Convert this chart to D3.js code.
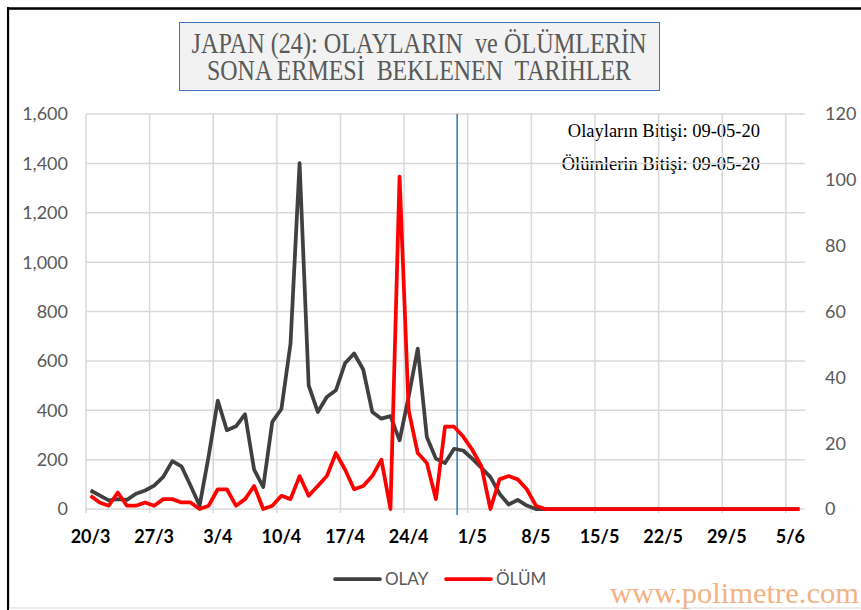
<!DOCTYPE html>
<html>
<head>
<meta charset="utf-8">
<script src="https://cdn.jsdelivr.net/npm/d3@7"></script>
<style>
  body { margin: 0; background: #fff; }
  svg { display: block; }
</style>
</head>
<body>
<div id="chart"></div>
<script>
// categories: one per day, 20/3 .. 6/6
const dates = [
  "20/3","21/3","22/3","23/3","24/3","25/3","26/3","27/3","28/3","29/3","30/3","31/3",
  "1/4","2/4","3/4","4/4","5/4","6/4","7/4","8/4","9/4","10/4","11/4","12/4","13/4","14/4","15/4",
  "16/4","17/4","18/4","19/4","20/4","21/4","22/4","23/4","24/4","25/4","26/4","27/4","28/4","29/4","30/4",
  "1/5","2/5","3/5","4/5","5/5","6/5","7/5","8/5","9/5","10/5","11/5","12/5","13/5","14/5","15/5",
  "16/5","17/5","18/5","19/5","20/5","21/5","22/5","23/5","24/5","25/5","26/5","27/5","28/5","29/5","30/5","31/5",
  "1/6","2/6","3/6","4/6","5/6","6/6"
];

// daily cases (left axis)
const olay = [
  75,55,35,40,37,62,75,95,130,194,
  173,95,14,215,439,319,335,384,159,89,
  353,405,669,1401,501,393,454,481,590,630,
  565,393,366,376,278,455,650,292,204,186,
  244,237,204,167,129,62,18,37,14,
  0,0,0,0,0,0,0,0,0,0,0,0,0,0,0,0,0,0,0,0,0,0,0,0,0,0,0,0,0,0
];

// daily deaths (right axis)
const olum = [
  4,2,1,5,1,1,2,1,3,3,
  2,2,0,1,6,6,1,3,7,0,
  1,4,3,10,4,7,10,17,12,6,
  7,10,15,0,101,30,17,14,3,25,
  25,22,18,13,0,9,10,9,6,1,
  0,0,0,0,0,0,0,0,0,0,0,0,0,0,0,0,0,0,0,0,0,0,0,0,0,0,0,0,0
];

const xTickLabels = ["20/3","27/3","3/4","10/4","17/4","24/4","1/5","8/5","15/5","22/5","29/5","5/6"];
const leftTicks = [0,200,400,600,800,1000,1200,1400,1600];
const rightTicks = [0,20,40,60,80,100,120];
const markerDate = "30/4";

const titleLines = ["JAPAN (24): OLAYLARIN  ve ÖLÜMLERİN", "SONA ERMESİ  BEKLENEN  TARİHLER"];
const notes = ["Olayların Bitişi: 09-05-20", "Ölümlerin Bitişi: 09-05-20"];

const W = 861, H = 610;
const plot = {left: 86, right: 804, top: 114, bottom: 509};

const svg = d3.select("#chart").append("svg")
  .attr("width", W).attr("height", H);

// chart area frame
svg.append("rect")
  .attr("x", 9.5).attr("y", 9.5).attr("width", W).attr("height", 598.5)
  .attr("fill", "#fff").attr("stroke", "#d9d9d9").attr("stroke-width", 1);
svg.append("line").attr("x1", 8).attr("x2", W).attr("y1", 8.5).attr("y2", 8.5)
  .attr("stroke", "#000").attr("stroke-width", 2.5);
svg.append("line").attr("x1", 8).attr("x2", 8).attr("y1", 7).attr("y2", H)
  .attr("stroke", "#000").attr("stroke-width", 2);

const x = d3.scaleBand().domain(dates).range([plot.left, plot.right]).padding(0);
const cx = d => x(d) + x.bandwidth() / 2;
const yL = d3.scaleLinear().domain([0, 1600]).range([plot.bottom, plot.top]);
const yR = d3.scaleLinear().domain([0, 120]).range([plot.bottom, plot.top]);

// end-date notes (sit under the gridlines, as in the original)
svg.append("g").selectAll("text").data(notes).join("text")
  .attr("x", 760).attr("y", (d, i) => 137 + i * 33)
  .attr("text-anchor", "end")
  .style("font-family", "'Liberation Serif', 'Times New Roman', serif").style("font-size", "18.5px")
  .attr("fill", "#000")
  .text(d => d);

// horizontal gridlines
svg.append("g").selectAll("line").data(leftTicks).join("line")
  .attr("x1", plot.left).attr("x2", plot.right + 1)
  .attr("y1", d => yL(d)).attr("y2", d => yL(d))
  .attr("stroke", "#d9d9d9").attr("stroke-width", 1.5);

// vertical gridlines at weekly boundaries
svg.append("g").selectAll("line").data(xTickLabels).join("line")
  .attr("x1", d => x(d)).attr("x2", d => x(d))
  .attr("y1", plot.top).attr("y2", plot.bottom + 4)
  .attr("stroke", "#d9d9d9").attr("stroke-width", 1.5);

// left axis labels
svg.append("g").selectAll("text").data(leftTicks).join("text")
  .attr("x", 68).attr("y", d => yL(d)).attr("dy", "0.36em")
  .attr("text-anchor", "end")
  .style("font-family", "Lato, sans-serif").style("font-size", "18px")
  .attr("fill", "#595959")
  .text(d => d3.format(",")(d));

// right axis labels
svg.append("g").selectAll("text").data(rightTicks).join("text")
  .attr("x", 825).attr("y", d => yR(d)).attr("dy", "0.36em")
  .attr("text-anchor", "start")
  .style("font-family", "Lato, sans-serif").style("font-size", "18px")
  .attr("fill", "#595959")
  .text(d => d);

// x labels
svg.append("g").selectAll("text").data(xTickLabels).join("text")
  .attr("x", d => cx(d)).attr("y", 543)
  .attr("text-anchor", "middle")
  .style("font-family", "Lato, sans-serif").style("font-size", "18px").style("font-weight", "bold")
  .attr("fill", "#000")
  .text(d => d);

// marker line
svg.append("line")
  .attr("x1", x(markerDate) - 1.5).attr("x2", x(markerDate) - 1.5)
  .attr("y1", plot.top).attr("y2", plot.bottom + 6)
  .attr("stroke", "#2e75b6").attr("stroke-width", 1.5);

// series
const lineL = d3.line().x((d, i) => cx(dates[i])).y(d => yL(d));
const lineR = d3.line().x((d, i) => cx(dates[i])).y(d => yR(d));

svg.append("path").datum(olay).attr("d", lineL)
  .attr("fill", "none").attr("stroke", "#404040").attr("stroke-width", 3.75)
  .attr("stroke-linejoin", "round");
svg.append("path").datum(olum).attr("d", lineR)
  .attr("fill", "none").attr("stroke", "#ff0000").attr("stroke-width", 3.75)
  .attr("stroke-linejoin", "round");

// title box
svg.append("rect")
  .attr("x", 179.5).attr("y", 22.5).attr("width", 480).attr("height", 68)
  .attr("fill", "#f2f2f2").attr("stroke", "#4472c4").attr("stroke-width", 1);
svg.append("g").selectAll("text").data(titleLines).join("text")
  .attr("x", 419).attr("y", (d, i) => 53 + i * 27)
  .attr("text-anchor", "middle")
  .attr("textLength", (d, i) => i === 0 ? 455 : 424)
  .attr("lengthAdjust", "spacingAndGlyphs")
  .style("white-space", "pre")
  .style("font-family", "'Liberation Serif', 'Times New Roman', serif").style("font-size", "29px")
  .attr("fill", "#595959")
  .text(d => d);

// legend
const legend = [
  {name: "OLAY", color: "#404040", x: 335},
  {name: "ÖLÜM", color: "#ff0000", x: 446}
];
const lg = svg.append("g").selectAll("g").data(legend).join("g");
lg.append("line")
  .attr("x1", d => d.x).attr("x2", d => d.x + 45)
  .attr("y1", 579).attr("y2", 579)
  .attr("stroke", d => d.color).attr("stroke-width", 3.75).attr("stroke-linecap", "round");
lg.append("text")
  .attr("x", d => d.x + 50).attr("y", 585)
  .style("font-family", "Lato, sans-serif").style("font-size", "17px")
  .attr("fill", "#595959")
  .text(d => d.name);

// watermark
svg.append("text")
  .attr("x", 610).attr("y", 603)
  .attr("textLength", 249).attr("lengthAdjust", "spacingAndGlyphs")
  .style("font-family", "'Liberation Serif', 'Times New Roman', serif").style("font-size", "30px")
  .attr("fill", "#f4b183")
  .text("www.polimetre.com");
</script>
</body>
</html>
